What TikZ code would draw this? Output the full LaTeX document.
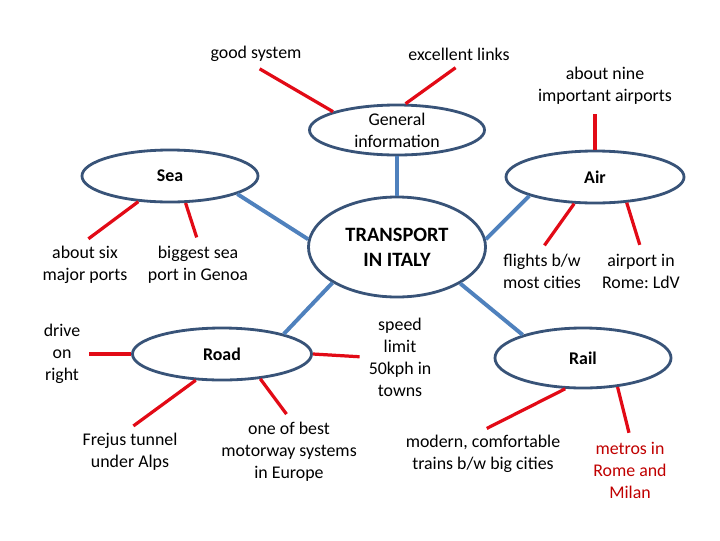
\documentclass[tikz,border=0pt]{standalone}
\usepackage{fontspec}
\setmainfont{Carlito}
\usepackage{xcolor}
\usetikzlibrary{shapes.geometric, positioning}
\definecolor{myblue}{RGB}{79, 129, 189}
\definecolor{mynavy}{RGB}{56, 83, 120}
\definecolor{myred}{RGB}{226, 10, 22}
\definecolor{mydarkred}{RGB}{192, 0, 0}
\frenchspacing

\begin{document}
\begin{tikzpicture}[x=0.025cm, y=-0.025cm,
    topic/.style={ellipse, draw=mynavy, line width=2pt, fill=white, inner sep=0pt,
                  minimum width=4.4cm, minimum height=1.3cm,
                  font=\fontsize{12.7}{15.6}\selectfont\bfseries},
    note/.style={align=center, font=\fontsize{12.7}{15.6}\selectfont},
    branch/.style={myblue, line width=2.8pt},
    twig/.style={myred, line width=2.3pt, shorten >=3pt}]
    \useasboundingbox (0,0) rectangle (720,540);

    % 主题椭圆
    \node[topic, font=\fontsize{12.7}{15.6}\selectfont, align=center,
          minimum width=4.375cm, minimum height=1.25cm] (gen) at (397,130) {General\\information};
    \node[topic, align=center, minimum width=4.425cm, minimum height=2.5cm,
          font=\fontsize{14.5}{18}\selectfont\bfseries] (hub) at (397,247) {TRANSPORT\\IN ITALY};
    \node[topic] (sea) at (170,176) {Sea};
    \node[topic, minimum width=4.45cm] (air) at (595,177) {Air};
    \node[topic, minimum width=4.475cm] (road) at (222,354) {Road};
    \node[topic, minimum height=1.5cm] (rail) at (583,358) {Rail};

    % 说明文字
    \node[note] (goodsys) at (256,54) {good system};
    \node[note] (links) at (459,54) {excellent links};
    \node[note] (nine) at (605,86) {about nine\\important airports};
    \node[note] (six) at (85,265) {about six\\major ports};
    \node[note] (genoa) at (198,265) {biggest sea\\port in Genoa};
    \node[note] (flights) at (542,271) {flights b/w\\most cities};
    \node[note] (ldv) at (641,271) {airport in\\Rome: LdV};
    \node[note] (drive) at (62,354) {drive\\on\\right};
    \node[note] (speed) at (400,357) {speed\\limit\\50kph in\\towns};
    \node[note] (frejus) at (130,452) {Frejus tunnel\\under Alps};
    \node[note] (motorway) at (289,452) {one of best\\motorway systems\\in Europe};
    \node[note] (trains) at (483,454) {modern, comfortable\\trains b/w big cities};
    \node[note, text=mydarkred] (metros) at (630,470) {metros in\\Rome and\\Milan};

    % 主干连线
    \draw[branch] (gen.south) -- (hub.north);
    \draw[branch] (sea.345) -- (hub.175);
    \draw[branch] (air.196) -- (hub.5);
    \draw[branch] (hub.209) -- (road.18);
    \draw[branch] (hub.330) -- (rail.159);

    % 分支连线
    \draw[twig] (gen.164) -- (goodsys.south);
    \draw[twig] (gen.72) -- (links.south);
    \draw[twig] (air.north) -- (air.north |- nine.south);
    \draw[twig] (sea.219) -- (six.north);
    \draw[twig] (sea.300) -- (genoa.north);
    \draw[twig] (air.232) -- (flights.north);
    \draw[twig] (air.321) -- (ldv.north);
    \draw[twig] (road.west) -- (drive.east);
    \draw[twig] (road.east) -- (speed.west);
    \draw[twig] (road.225) -- (frejus.north);
    \draw[twig] (road.327) -- (motorway.north);
    \draw[twig] (rail.240) -- (trains.north);
    \draw[twig] (rail.320) -- (metros.north);
\end{tikzpicture}
\end{document}
